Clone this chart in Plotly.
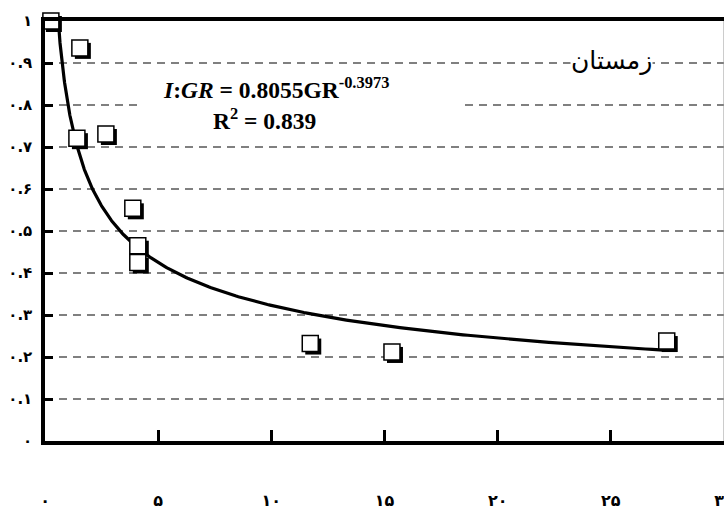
import numpy as np
import plotly.graph_objects as go

# ---- data ----
x_vals = [0.26, 1.54, 1.41, 2.69, 3.88, 4.10, 4.10, 11.72, 15.33, 27.47]
y_vals = [1.00, 0.936, 0.721, 0.731, 0.554, 0.465, 0.425, 0.232, 0.212, 0.238]

# power trendline from the chart's own equation
coef_a = 0.8055
coef_b = -0.3973
r2 = 0.839

x_tickvals = [0, 5, 10, 15, 20, 25, 30]
x_ticktext = ["۰", "۵", "۱۰", "۱۵", "۲۰", "۲۵", "۳۰"]
y_tickvals = [0, 0.1, 0.2, 0.3, 0.4, 0.5, 0.6, 0.7, 0.8, 0.9, 1.0]
y_ticktext = ["۰", "۰.۱", "۰.۲", "۰.۳", "۰.۴", "۰.۵", "۰.۶", "۰.۷", "۰.۸", "۰.۹", "۱"]

season_label = "زمستان"

# ---- geometry ----
W, H = 724, 513
ML, MR, MT, MB = 45, 0, 21, 72
PW, PH = W - ML - MR, H - MT - MB
XR = [0, 30]
YR = [0, 1]


def px_x(p):
    return (p - ML) / PW


def px_y(p):
    return (H - MB - p) / PH


# shadow offset (3 px) expressed through the axis scale
dx = 3 * (XR[1] - XR[0]) / PW
dy = 3 * (YR[1] - YR[0]) / PH

xs_fit = np.geomspace(min(x_vals), max(x_vals), 400)
ys_fit = coef_a * xs_fit ** coef_b

fig = go.Figure()

fig.add_trace(go.Scatter(
    x=xs_fit, y=ys_fit, mode="lines",
    line=dict(color="black", width=3.2),
    hoverinfo="skip", showlegend=False,
))

fig.add_trace(go.Scatter(
    x=[v + dx for v in x_vals], y=[v - dy for v in y_vals], mode="markers",
    marker=dict(symbol="square", size=16, color="black",
                line=dict(color="black", width=0)),
    cliponaxis=False, hoverinfo="skip", showlegend=False,
))

fig.add_trace(go.Scatter(
    x=x_vals, y=y_vals, mode="markers",
    marker=dict(symbol="square", size=16, color="white",
                line=dict(color="black", width=1.5)),
    cliponaxis=False, showlegend=False,
))

x_tick_font = dict(family="DejaVu Sans", size=16, color="black", weight="bold")
y_tick_font = dict(family="DejaVu Sans", size=15, color="black", weight="bold")

fig.update_xaxes(
    range=XR, tickmode="array", tickvals=x_tickvals, ticktext=x_ticktext,
    showgrid=False, zeroline=False,
    showline=True, linecolor="black", linewidth=3.5, mirror=True,
    ticks="inside", ticklen=11, tickwidth=3, tickcolor="black",
    ticklabelstandoff=42, tickfont=x_tick_font, ticklabeloverflow="allow",
    automargin=False,
)
fig.update_yaxes(
    range=YR, tickmode="array", tickvals=y_tickvals, ticktext=y_ticktext,
    showgrid=True, gridcolor="#808080", gridwidth=1.5, griddash="8px,6px",
    zeroline=False,
    showline=True, linecolor="black", linewidth=3.5,
    ticks="inside", ticklen=8, tickwidth=3, tickcolor="black",
    ticklabelstandoff=6, tickfont=y_tick_font, ticklabeloverflow="allow",
    automargin=False,
)

fig.add_shape(type="line", xref="paper", yref="paper",
              x0=1, x1=1, y0=0, y1=1,
              line=dict(color="#999999", width=1))

# white box behind the equation (hides gridline)
fig.add_shape(type="rect", xref="paper", yref="paper",
              x0=px_x(143), x1=px_x(460), y0=px_y(140), y1=px_y(70),
              fillcolor="white", line=dict(width=0), layer="above")

eq_font = dict(family="Liberation Serif", size=23.5, color="black")
fig.add_annotation(
    xref="paper", yref="paper", x=px_x(276), y=px_y(88),
    xanchor="center", yanchor="middle", showarrow=False,
    text=f"<b><i>I</i>:<i>GR</i> = {coef_a}GR<sup>{coef_b}</sup></b>",
    font=eq_font,
)
fig.add_annotation(
    xref="paper", yref="paper", x=px_x(264), y=px_y(119),
    xanchor="center", yanchor="middle", showarrow=False,
    text=f"<b>R<sup>2</sup> = {r2}</b>",
    font=eq_font,
)
fig.add_annotation(
    xref="paper", yref="paper", x=px_x(611), y=px_y(60),
    xanchor="center", yanchor="middle", showarrow=False,
    text=season_label, bgcolor="white", borderpad=0,
    font=dict(family="DejaVu Sans", size=25, color="black"),
)

fig.update_layout(
    width=W, height=H,
    margin=dict(l=ML, r=MR, t=MT, b=MB),
    paper_bgcolor="white", plot_bgcolor="white",
    showlegend=False,
)

fig.write_html("out.html")
